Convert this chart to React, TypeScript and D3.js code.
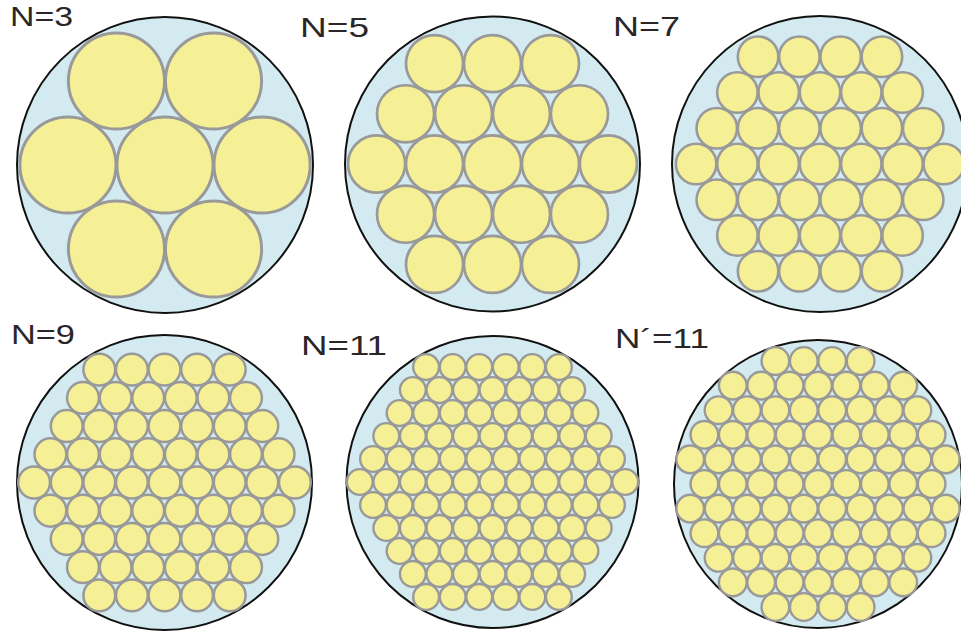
import * as d3 from "d3";

// panel labels
const labels = ["N=3", "N=5", "N=7", "N=9", "N=11", "N\u00B4=11"];

// number of wires in each horizontal row, top to bottom
const rowCounts = [
  [2, 3, 2],
  [3, 4, 5, 4, 3],
  [4, 5, 6, 7, 6, 5, 4],
  [5, 6, 7, 8, 9, 8, 7, 6, 5],
  [6, 7, 8, 9, 10, 11, 10, 9, 8, 7, 6],
  [4, 7, 8, 9, 10, 9, 10, 9, 8, 7, 4],
];

// outer diameter measured in wire pitches
const spans = [3.05, 5.09, 7.17, 9.05, 11.0, 10.14];

// layout
const panels = [
  { cx: 165, cy: 165, r: 148, sw: 3, lx: 10, ly: 26, lw: 63 },
  { cx: 492.5, cy: 164, r: 147.5, sw: 2.7, lx: 300, ly: 37, lw: 69 },
  { cx: 820, cy: 164, r: 148, sw: 2.6, lx: 613, ly: 36, lw: 67 },
  { cx: 164.5, cy: 482.5, r: 147.5, sw: 2.5, lx: 11, ly: 344, lw: 64 },
  { cx: 492.5, cy: 482, r: 146, sw: 2.4, lx: 301, ly: 355, lw: 86 },
  { cx: 818, cy: 484, r: 144, sw: 2.4, lx: 615, ly: 348, lw: 94 },
];

const W = 961;
const H = 632;

const Panel = ({ i }: { i: number }) => {
  const p = panels[i];
  const span = spans[i];
  const rows = rowCounts[i];
  const x = d3.scaleLinear().domain([-span / 2, span / 2]).range([p.cx - p.r, p.cx + p.r]);
  const y = d3.scaleLinear().domain([-span / 2, span / 2]).range([p.cy - p.r, p.cy + p.r]);
  const unit = x(1) - x(0);
  const rr = unit / 2 - p.sw * 0.15;
  const dy = Math.sqrt(3) / 2;

  const wires: { u: number; v: number }[] = [];
  rows.forEach((n, ri) => {
    const v = (ri - (rows.length - 1) / 2) * dy;
    d3.range(n).forEach((k) => {
      wires.push({ u: k - (n - 1) / 2, v });
    });
  });

  return (
    <g>
      <circle cx={p.cx} cy={p.cy} r={p.r} fill="#d3ebf0" stroke="#111" strokeWidth={2} />
      {wires.map((w, j) => (
        <circle
          key={j}
          cx={x(w.u)}
          cy={y(w.v)}
          r={rr}
          fill="#f5ef96"
          stroke="#999999"
          strokeWidth={p.sw}
        />
      ))}
      <text
        x={p.lx}
        y={p.ly}
        fontSize={27}
        fontFamily="'Liberation Sans', Arial, sans-serif"
        fill="#2a2627"
        textLength={p.lw}
        lengthAdjust="spacingAndGlyphs"
      >
        {labels[i]}
      </text>
    </g>
  );
};

export default function App() {
  return (
    <svg
      width={W}
      height={H}
      style={{ position: "absolute", left: 0, top: 0, background: "#fff" }}
    >
      {panels.map((_, i) => (
        <Panel key={i} i={i} />
      ))}
    </svg>
  );
}
